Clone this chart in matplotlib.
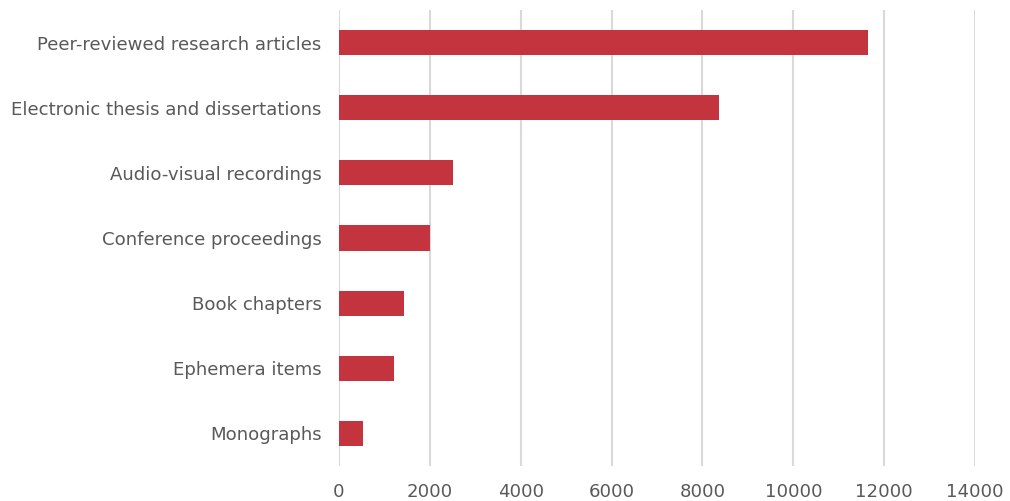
"""Horizontal bar chart of repository item counts by type."""

import matplotlib

matplotlib.use("Agg")
import matplotlib.pyplot as plt

matplotlib.rcParams["font.family"] = "DejaVu Sans"

categories = [
    "Peer-reviewed research articles",
    "Electronic thesis and dissertations",
    "Audio-visual recordings",
    "Conference proceedings",
    "Book chapters",
    "Ephemera items",
    "Monographs",
]
counts = [11640, 8370, 2500, 2010, 1420, 1200, 520]
x_ticks = [0, 2000, 4000, 6000, 8000, 10000, 12000, 14000]

BAR_COLOR = "#c3343f"
GRID_COLOR = "#d9d9d9"
TEXT_COLOR = "#595959"

fig = plt.figure(figsize=(10.10, 5.01), dpi=100)
ax = fig.add_axes([339 / 1010, 35 / 501, 636 / 1010, 456 / 501])

ypos = list(range(len(categories)))
ax.barh(ypos, counts, height=0.385, color=BAR_COLOR, zorder=3)

ax.set_xlim(0, 14000)
ax.set_ylim(len(categories) - 0.5, -0.5)
ax.set_xticks(x_ticks)
ax.set_xticklabels([str(t) for t in x_ticks])
ax.set_yticks(ypos)
ax.set_yticklabels(categories)

ax.grid(axis="x", color=GRID_COLOR, linewidth=1.5, zorder=0)
ax.tick_params(axis="both", length=0, labelsize=13.1, colors=TEXT_COLOR)
ax.tick_params(axis="x", pad=12)
ax.tick_params(axis="y", pad=12.5)
for spine in ax.spines.values():
    spine.set_visible(False)

fig.savefig("out.png", dpi=100)
